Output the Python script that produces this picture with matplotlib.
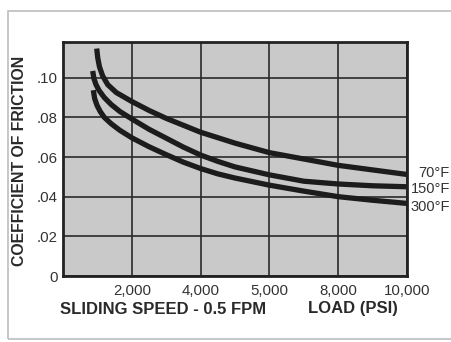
import matplotlib
matplotlib.use("Agg")
import matplotlib.pyplot as plt
from matplotlib.patches import Rectangle

plt.rcParams['font.family'] = ['Liberation Sans', 'DejaVu Sans']

# load in psi (grid positions), printed tick labels as on the original
x_ticks = [2000, 4000, 6000, 8000, 10000]
x_tick_labels = ['2,000', '4,000', '5,000', '8,000', '10,000']
y_ticks = [0, 0.02, 0.04, 0.06, 0.08, 0.10]
y_tick_labels = ['0', '.02', '.04', '.06', '.08', '.10']

x_70 = [980, 1010, 1060, 1150, 1300, 1550, 1800, 2000, 2500, 3000, 3500, 4000, 5000, 6000, 7000, 8000, 9000, 10000]
f_70 = [0.1147, 0.1100, 0.1055, 0.1010, 0.0965, 0.0925, 0.0900, 0.0880, 0.0835, 0.0795, 0.0760, 0.0725,
        0.0670, 0.0622, 0.0590, 0.0558, 0.0535, 0.0512]
x_150 = [863, 900, 960, 1050, 1200, 1400, 1650, 2000, 2500, 3000, 3500, 4000, 4500, 5000, 6000, 7000, 8000, 9000, 10000]
f_150 = [0.1034, 0.0995, 0.0965, 0.0935, 0.0900, 0.0865, 0.0830, 0.0792, 0.0740, 0.0695, 0.0650, 0.0610,
         0.0578, 0.0550, 0.0510, 0.0478, 0.0464, 0.0455, 0.0450]
x_300 = [881, 920, 990, 1080, 1200, 1400, 1650, 2000, 2500, 3000, 3500, 4000, 4500, 5000, 6000, 7000, 8000, 9000, 10000]
f_300 = [0.0937, 0.0895, 0.0860, 0.0830, 0.0800, 0.0768, 0.0735, 0.0697, 0.0652, 0.0612, 0.0574, 0.0542,
         0.0515, 0.0494, 0.0458, 0.0428, 0.0400, 0.0382, 0.0366]
labels = ['70°F', '150°F', '300°F']

W, H = 452, 342
fig = plt.figure(figsize=(W / 100, H / 100), dpi=100)
fig.patch.set_facecolor('white')

# light frame around the picture
fig.add_artist(Rectangle((8 / W, 1 - 339 / H), 460 / W, 328 / H, transform=fig.transFigure,
                         fill=False, edgecolor='#bdbdbd', linewidth=1.2))

ax = fig.add_axes([63 / W, 1 - 276 / H, 344 / W, 234 / H])
ax.set_facecolor('#c9c9c9')
ax.set_xlim(0, 10000)
ax.set_ylim(0, 0.118)

for xs, ys in [(x_70, f_70), (x_150, f_150), (x_300, f_300)]:
    ax.plot(xs, ys, color='#1c1c1c', lw=3.8, solid_capstyle='butt', solid_joinstyle='round', zorder=3)

ax.set_xticks(x_ticks)
ax.set_xticklabels(x_tick_labels)
ax.set_yticks(y_ticks)
ax.set_yticklabels(y_tick_labels)
ax.tick_params(length=0, labelsize=10.8, labelcolor='#333333')
ax.tick_params(axis='x', pad=6)
ax.tick_params(axis='y', pad=4)
ax.grid(True, color='#2a2a2a', lw=1.2)
ax.set_axisbelow(True)
for s in ax.spines.values():
    s.set_linewidth(2)
    s.set_color('#222222')

fig.text(20 / W, 1 - 161 / H, 'COEFFICIENT OF FRICTION', rotation=90, ha='center', va='center',
         fontsize=11.4, fontweight='bold', color='#2a2a2a')
fig.text(60 / W, 1 - 309 / H, 'SLIDING SPEED - 0.5 FPM', ha='left', va='center',
         fontsize=12, fontweight='bold', color='#2a2a2a')
fig.text(308 / W, 1 - 309 / H, 'LOAD (PSI)', ha='left', va='center',
         fontsize=12, fontweight='bold', color='#2a2a2a')

# temperature labels, right aligned at the picture edge
for lab, yp in zip(labels, [173, 189, 207]):
    fig.text(450 / W, 1 - yp / H, lab, ha='right', va='center', fontsize=10.5, color='#333333')

fig.savefig('out.png', dpi=100)
